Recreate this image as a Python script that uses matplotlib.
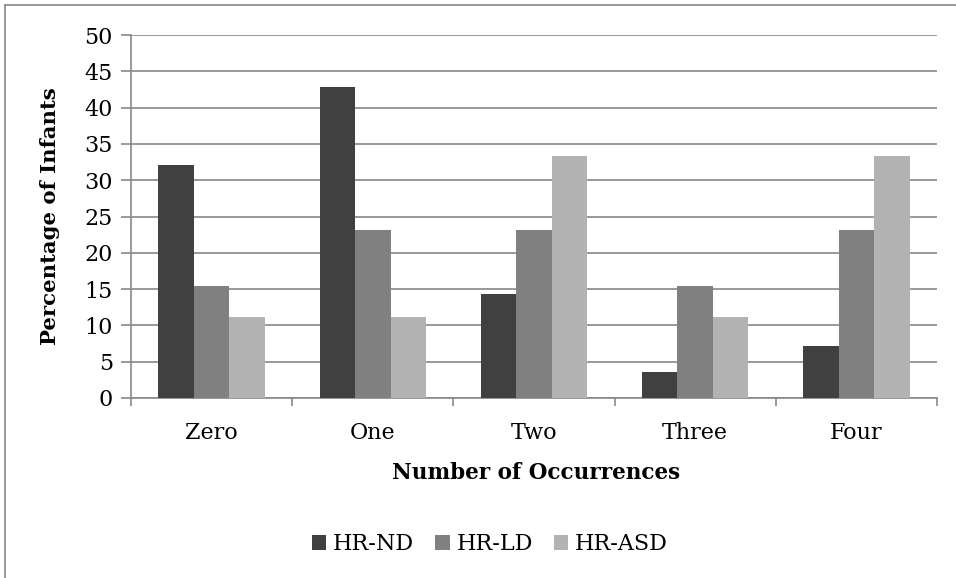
import numpy as np
import matplotlib.pyplot as plt
from matplotlib.lines import Line2D

plt.rcParams['font.family'] = ['DejaVu Serif']

categories = ["Zero", "One", "Two", "Three", "Four"]
series_names = ["HR-ND", "HR-LD", "HR-ASD"]
hr_nd = [32.1, 42.9, 14.3, 3.6, 7.1]
hr_ld = [15.4, 23.1, 23.1, 15.4, 23.1]
hr_asd = [11.1, 11.1, 33.3, 11.1, 33.3]
colors = ["#404040", "#808080", "#b3b3b3"]

fig = plt.figure(figsize=(9.56, 5.78), dpi=100)
ax = fig.add_axes([131 / 956, 1 - 398 / 578, 806 / 956, 363 / 578])

x = np.arange(len(categories))
w = 0.22
for i, (vals, name) in enumerate(zip([hr_nd, hr_ld, hr_asd], series_names)):
    ax.bar(x + (i - 1) * w, vals, w, color=colors[i], label=name, zorder=3)

ax.set_xlim(-0.5, len(categories) - 0.5)
ax.set_ylim(0, 50)
ax.set_yticks(range(0, 51, 5))
ax.set_xticks(x)
ax.set_xticklabels(categories)
ax.set_xticks(np.arange(-0.5, len(categories)), minor=True)
ax.tick_params(axis='x', which='major', length=0, pad=17, labelsize=16)
ax.tick_params(axis='x', which='minor', length=6, color="#888888", width=1.2)
ax.tick_params(axis='y', length=7, color="#888888", width=1.2, labelsize=16, pad=6)
ax.yaxis.grid(True, color="#888888", linewidth=1.2, zorder=0)
for s in ['top', 'right']:
    ax.spines[s].set_visible(False)
for s in ['left', 'bottom']:
    ax.spines[s].set_color("#888888")
    ax.spines[s].set_linewidth(1.2)

ax.set_ylabel("Percentage of Infants", fontsize=15.3, fontweight='bold')
ax.yaxis.set_label_coords(-0.1005, 0.5)
ax.set_xlabel("Number of Occurrences", fontsize=15.5, fontweight='bold')
ax.xaxis.set_label_coords(0.502, -0.207)
ax.xaxis.label.set_va('center')
ax.yaxis.label.set_va('center')

ax.legend(loc='center', bbox_to_anchor=(490 / 956, 1 - 544 / 578),
          bbox_transform=fig.transFigure, ncol=3, frameon=False,
          fontsize=16, handlelength=0.65, handleheight=0.65,
          handletextpad=0.3, columnspacing=0.95)

# outer chart border (top and left visible)
fig.add_artist(Line2D([5 / 956, 1], [1 - 5 / 578, 1 - 5 / 578], color="#888888", lw=1.2, transform=fig.transFigure))
fig.add_artist(Line2D([5 / 956, 5 / 956], [0, 1 - 5 / 578], color="#888888", lw=1.2, transform=fig.transFigure))

plt.savefig("out.png", dpi=100)
